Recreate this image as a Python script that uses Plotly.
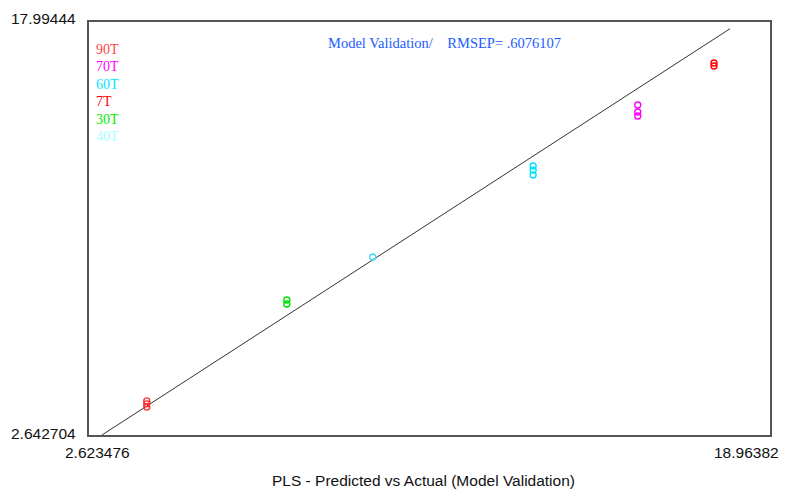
import plotly.graph_objects as go

X_MIN, X_MAX = 2.623476, 18.96382
Y_MIN, Y_MAX = 2.642704, 17.99444

groups = ["90T", "70T", "60T", "7T", "30T", "40T"]
colors = ["#ff4646", "#ff00ff", "#00e8ff", "#ff0000", "#00ee00", "#a8ffff"]
point_colors = ["#ff3030", "#ff00ff", "#00e0ff", "#ff0000", "#00e000", "#40d8ff"]
actual = {
    "90T": [4.01, 4.01, 4.01],
    "70T": [15.79, 15.79, 15.79],
    "60T": [13.28, 13.28, 13.28],
    "7T": [17.62, 17.62],
    "30T": [7.37, 7.37],
    "40T": [9.43],
}
predicted = {
    "90T": [3.91, 3.80, 3.68],
    "70T": [14.91, 14.65, 14.50],
    "60T": [12.64, 12.49, 12.31],
    "7T": [16.47, 16.36],
    "30T": [7.66, 7.51],
    "40T": [9.26],
}
fit_x = [2.935, 18.004]
fit_y = [2.6427, 17.744]

# page body has an 8px margin; plot frame targets x 89..770, y 22..435
W, H = 783, 481
ML, MR, MT, MB = 81, 21, 14, 54
PW, PH = W - ML - MR, H - MT - MB

def px(xpix):
    return (xpix - 8 - ML) / PW

def py(ypix):
    return 1 - (ypix - 8 - MT) / PH

fig = go.Figure()
fig.add_trace(go.Scatter(x=fit_x, y=fit_y, mode="lines",
                         line=dict(color="#333333", width=1), showlegend=False,
                         hoverinfo="skip"))
for g, c in zip(groups, point_colors):
    fig.add_trace(go.Scatter(x=actual[g], y=predicted[g], mode="markers", name=g,
                             marker=dict(symbol="circle-open", size=6, color=c,
                                         line=dict(width=1.4, color=c)),
                             showlegend=False))

legend_y0 = 49
for i, (g, c) in enumerate(zip(groups, colors)):
    fig.add_annotation(xref="paper", yref="paper", x=px(94),
                       y=py(legend_y0 + i * 17.5),
                       text=g, showarrow=False, xanchor="left", yanchor="middle",
                       font=dict(family="Liberation Serif", size=14, color=c))

fig.add_annotation(xref="paper", yref="paper", x=px(326), y=py(43),
                   text="Model Validation/&nbsp;&nbsp;&nbsp;&nbsp;RMSEP= .6076107",
                   showarrow=False, xanchor="left", yanchor="middle",
                   font=dict(family="Liberation Serif", size=14.5, color="#1a5cff"))

lab_font = dict(family="Liberation Sans", size=15.5, color="#111111")
fig.add_annotation(xref="paper", yref="paper", x=px(78), y=py(19),
                   text=f"{Y_MAX:.5f}", showarrow=False, xanchor="right", yanchor="middle",
                   font=lab_font)
fig.add_annotation(xref="paper", yref="paper", x=px(78), y=py(433),
                   text=f"{Y_MIN:.6f}", showarrow=False, xanchor="right", yanchor="middle",
                   font=lab_font)
fig.add_annotation(xref="paper", yref="paper", x=px(97), y=py(452),
                   text=f"{X_MIN:.6f}", showarrow=False, xanchor="center", yanchor="middle",
                   font=lab_font)
fig.add_annotation(xref="paper", yref="paper", x=px(781), y=py(452),
                   text=f"{X_MAX:.5f}", showarrow=False, xanchor="right", yanchor="middle",
                   font=lab_font)
fig.add_annotation(xref="paper", yref="paper", x=px(423), y=py(480),
                   text="PLS - Predicted vs Actual (Model Validation)", showarrow=False,
                   xanchor="center", yanchor="middle", font=lab_font)

fig.update_xaxes(range=[X_MIN, X_MAX], showgrid=False, zeroline=False, showticklabels=False,
                 ticks="", showline=True, linecolor="#555555", linewidth=2, mirror=True)
fig.update_yaxes(range=[Y_MIN, Y_MAX], showgrid=False, zeroline=False, showticklabels=False,
                 ticks="", showline=True, linecolor="#555555", linewidth=2, mirror=True)
fig.update_layout(width=W, height=H, margin=dict(l=ML, r=MR, t=MT, b=MB),
                  plot_bgcolor="white", paper_bgcolor="white", showlegend=False)
fig.write_html("out.html")
